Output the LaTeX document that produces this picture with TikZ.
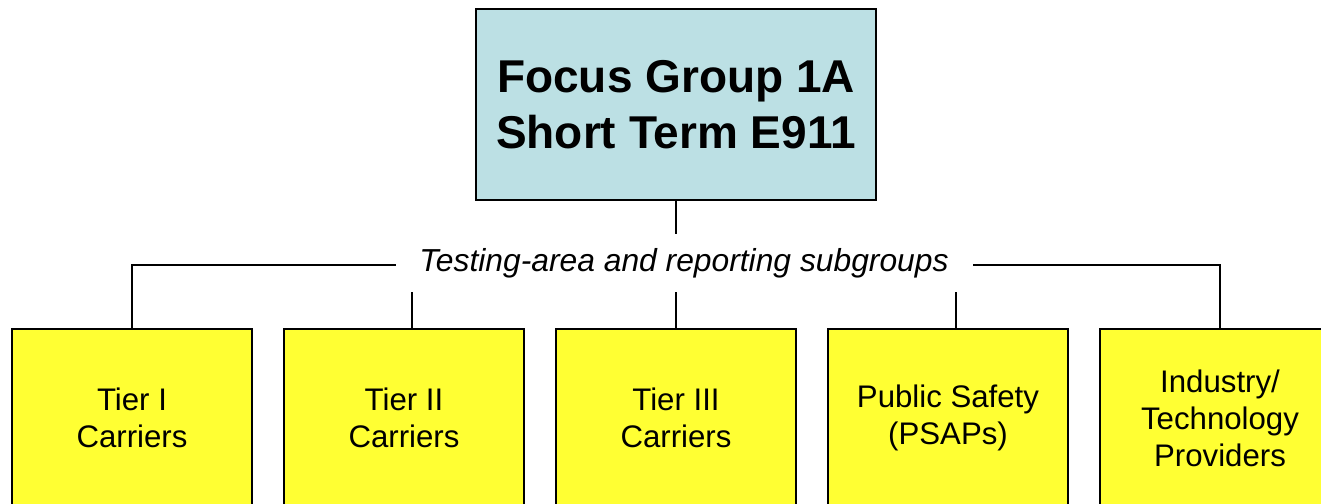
\documentclass[tikz,border=0pt]{standalone}
\usepackage{fontspec}
\setmainfont{Liberation Sans}
\definecolor{focusblue}{RGB}{188,224,228}
\definecolor{subyellow}{RGB}{255,255,51}

\begin{document}
\begin{tikzpicture}[x=0.5pt, y=-0.5pt,
    focusbox/.style={draw, rectangle, line width=1.3pt, fill=focusblue, minimum width=200pt, minimum height=95.5pt, align=center, font=\fontsize{23}{28}\selectfont\bfseries},
    subbox/.style={draw, rectangle, line width=1.3pt, fill=subyellow, minimum width=120pt, minimum height=89pt, align=center, font=\fontsize{15.6}{18.5}\selectfont},
    link/.style={line width=1pt}]
    \clip (0,0) rectangle (1321,503);
    \fill[white] (0,0) rectangle (1321,503);

    % Nodes
    \node[focusbox] (focus) at (676,104.5) {Focus Group 1A\\Short Term E911};
    \node[subbox] (tierone) at (132,418) {Tier I\\Carriers};
    \node[subbox] (tiertwo) at (404,418) {Tier II\\Carriers};
    \node[subbox] (tierthree) at (676,418) {Tier III\\Carriers};
    \node[subbox] (safety) at (948,418) {Public Safety\\(PSAPs)};
    \node[subbox] (industry) at (1220,418) {Industry/\\Technology\\Providers};
    \coordinate (bus) at (676,265);

    % Connectors
    \draw[link] (focus) -- (bus);
    \draw[link] (tierone.north) |- (bus) -| (industry.north);
    \draw[link] ([xshift=4pt]tiertwo.north) -- ++(0,-64);
    \draw[link] (tierthree.north) -- ++(0,-64);
    \draw[link] ([xshift=4pt]safety.north) -- ++(0,-64);

    % Label over the bus line
    \node[fill=white, inner sep=0pt, minimum width=288.5pt, minimum height=29pt, font=\fontsize{15.9}{18.5}\selectfont\itshape] (subgroups) at (684,263) {Testing-area and reporting subgroups};
\end{tikzpicture}
\end{document}
